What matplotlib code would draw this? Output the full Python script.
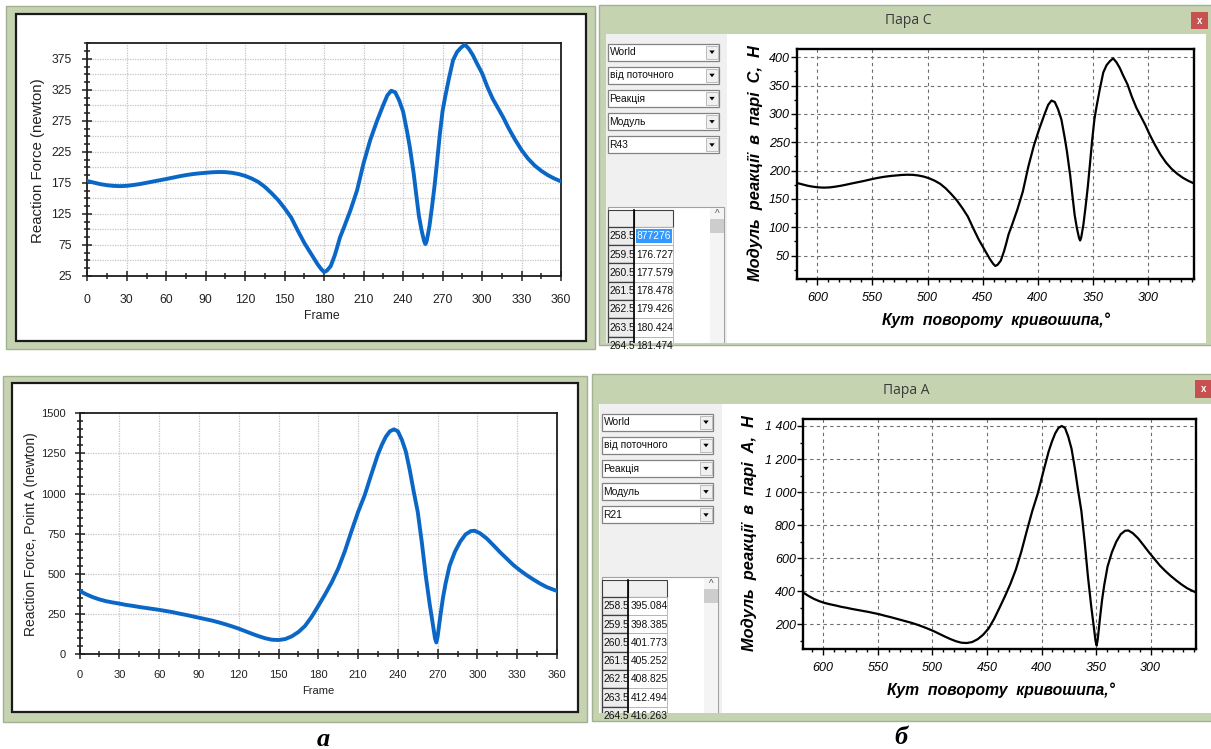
import numpy as np
from matplotlib import pyplot as plt
from matplotlib.patches import Rectangle, Polygon
from matplotlib.ticker import MultipleLocator

W, H = 1211, 749
plt.rcParams["font.family"] = ["Liberation Sans", "DejaVu Sans"]

# reaction force in pair C (R43) over one revolution
frames_c = [0, 5, 10, 15, 20, 25, 30, 35, 40, 45,
            50, 55, 60, 65, 70, 75, 80, 85, 90, 95,
            100, 105, 110, 115, 120, 125, 130, 135, 140, 145,
            150, 155, 160, 165, 170, 175, 178, 180, 182, 185,
            188, 190, 192, 195, 200, 205, 210, 215, 220, 225,
            228, 231, 234, 237, 240, 243, 245, 248, 250, 252,
            254, 256, 257, 258, 260, 262, 264, 266, 268, 270,
            272, 275, 278, 281, 284, 287, 290, 293, 296, 300,
            304, 308, 312, 316, 320, 325, 330, 335, 340, 345,
            350, 355, 360]
force_c = [178, 175.5, 173, 171.3, 170.2, 169.8, 170.3, 171.6, 173.2, 175.2,
           177.3, 179.3, 181.3, 183.5, 185.7, 187.6, 189.2, 190.4, 191.3, 192.2,
           192.6, 192.4, 191.3, 189.3, 186.3, 182, 176.5, 168.5, 158.5, 147.5,
           134, 119, 98, 78, 61, 44, 35.5, 31.5, 33.5, 41,
           58, 72, 87, 103, 131, 163, 207, 244, 274, 301,
           316, 323.5, 321, 308, 290, 258, 234, 191, 156, 122,
           99, 81, 76.5, 82, 105, 137, 172, 213, 255, 291,
           314, 345, 373, 386, 393, 398, 391, 381, 368, 352,
           330, 311, 296, 281, 264, 245, 228, 214, 203, 194.5,
           187.5, 182, 177.5]

# reaction force in pair A (R21)
frames_a = [0, 5, 10, 15, 20, 25, 30, 35, 40, 45,
            50, 55, 60, 65, 70, 75, 80, 85, 90, 95,
            100, 105, 110, 115, 120, 125, 130, 135, 140, 145,
            150, 155, 160, 165, 170, 175, 180, 185, 190, 195,
            200, 205, 210, 215, 220, 225, 228, 231, 234, 237,
            240, 243, 246, 249, 252, 255, 258, 261, 264, 266,
            268, 269, 270, 272, 274, 276, 279, 283, 287, 291,
            295, 298, 302, 307, 312, 317, 322, 327, 332, 337,
            342, 347, 352, 356, 360]
force_a = [393, 372, 354, 340, 329, 321, 314, 306, 300, 293,
           287, 281, 275, 268, 261, 252, 244, 235, 226, 217,
           208, 197, 185, 172, 158, 142, 126, 111, 98, 89,
           87, 93, 110, 137, 175, 232, 300, 370, 445, 532,
           640, 765, 885, 990, 1120, 1245, 1305, 1355, 1388, 1400,
           1388, 1335, 1262, 1145, 1010, 885, 700, 490, 310, 205,
           98, 72, 110, 235, 350, 440, 550, 637, 700, 745,
           766, 768, 752, 720, 678, 635, 595, 555, 522, 492,
           465, 440, 418, 405, 393]

angle_offset = 618.5  # crank angle = 618.5 - frame

frame_ticks = [0, 30, 60, 90, 120, 150, 180, 210, 240, 270, 300, 330, 360]
ticks_c = [25, 75, 125, 175, 225, 275, 325, 375]
ticks_a = [0, 250, 500, 750, 1000, 1250, 1500]
angle_ticks = [600, 550, 500, 450, 400, 350, 300]
ticks_c_right = [50, 100, 150, 200, 250, 300, 350, 400]
ticks_a_right = [200, 400, 600, 800, 1000, 1200, 1400]

combo_items = ["World", "від поточного", "Реакція", "Модуль"]
table_keys = ["258.5", "259.5", "260.5", "261.5", "262.5", "263.5", "264.5"]
table_c = ["877276", "176.727", "177.579", "178.478", "179.426", "180.424", "181.474"]
table_a = ["395.084", "398.385", "401.773", "405.252", "408.825", "412.494", "416.263"]

GREEN = "#c5d3b1"
EDGE = "#a3b193"

fig = plt.figure(figsize=(W / 100, H / 100), dpi=100)


def px_axes(x0, y0, x1, y1):
    return fig.add_axes([x0 / W, 1 - y1 / H, (x1 - x0) / W, (y1 - y0) / H])


def rect(ax, x0, y0, x1, y1, **kw):
    r = Rectangle((x0, y0), x1 - x0, y1 - y0, **kw)
    ax.add_patch(r)
    return r


bg = px_axes(0, 0, W, H)
bg.set_xlim(0, W)
bg.set_ylim(H, 0)
bg.axis("off")

# frames of the two left plots
rect(bg, 6, 6, 595, 349, fc=GREEN, ec=EDGE, lw=1)
rect(bg, 16, 13.5, 585.5, 340.5, fc="white", ec="#1a1a1a", lw=1.6)
rect(bg, 3, 376, 587, 722, fc=GREEN, ec=EDGE, lw=1)
rect(bg, 11.5, 383, 578, 712, fc="white", ec="#1a1a1a", lw=1.6)

# the two program windows on the right
windows = [(599, 5, 345, 34, 343.3, 907.8, 20.7, "Пара С", (1191, 11.7, 1208, 29.3)),
           (592, 374, 721, 404, 713.3, 906, 390, "Пара А", (1195, 380, 1213, 398))]
for x0, y0, y1, ctop, cbot, tx, ty, title, close in windows:
    rect(bg, x0, y0, W + 5, y1, fc=GREEN, ec=EDGE, lw=1)
    rect(bg, x0 + 7, ctop, W - 5 if y0 < 100 else W + 5, cbot, fc="white", ec="none")
    bg.text(tx, ty, title, fontsize=10, ha="center", va="center", color="#3a3a3a",
            family=["Open Sans", "DejaVu Sans"])
    rect(bg, close[0], close[1], close[2], close[3], fc="#c75050", ec="none")
    bg.text((close[0] + close[2]) / 2, (close[1] + close[3]) / 2, "x", fontsize=7,
            fontweight="bold", color="white", ha="center", va="center")

bg.text(323, 739, "a", fontsize=19, fontweight="bold", fontstyle="italic",
        family=["Liberation Serif", "DejaVu Serif"], ha="center", va="center")
bg.text(901, 737, "б", fontsize=19, fontweight="bold", fontstyle="italic",
        family=["Liberation Serif", "DejaVu Serif"], ha="center", va="center")


def side_panel(x0, y0, x1, y1, last_item, values):
    ax = px_axes(x0, y0, x1, y1)
    w, h = x1 - x0, y1 - y0
    ax.set_xlim(0, w)
    ax.set_ylim(h, 0)
    ax.axis("off")
    rect(ax, 0, 0, w, h, fc="#f0f0f0", ec="none")
    for i, item in enumerate(combo_items + [last_item]):
        top = 9.5 + i * 23.2
        rect(ax, 1.7, top, 113.3, top + 17, fc="white", ec="#828282", lw=0.9)
        rect(ax, 100, top + 2, 112, top + 15, fc="#f0f0f0", ec="#b4b4b4", lw=0.6)
        ax.add_patch(Polygon([[103.3, top + 7], [108.7, top + 7], [106, top + 10.5]],
                             closed=True, fc="black", ec="none"))
        ax.text(3.5, top + 8.8, item, fontsize=7.4, va="center", color="#111111")
    # table with scroll bar
    rect(ax, 1.7, 173, 118.3, h + 3, fc="white", ec="#a0a0a0", lw=0.8)
    rect(ax, 104, 173.5, 118, h + 3, fc="#f4f4f4", ec="none")
    ax.text(111, 180, "^", fontsize=7, ha="center", va="center", color="#555555")
    rect(ax, 104, 185, 118, 199, fc="#cdcdcd", ec="none")
    cols = [(1.7, 28.3), (28.3, 67.3)]
    for cx0, cx1 in cols:
        rect(ax, cx0, 176, cx1, 192.7, fc="#f0f0f0", ec="#404040", lw=0.8)
    for k, (key, val) in enumerate(zip(table_keys, values)):
        top = 192.7 + k * 18.3
        c1 = rect(ax, 1.7, top, 28.3, top + 18.3, fc="#ececec", ec="#404040", lw=0.9)
        t = ax.text(3, top + 9.5, key, fontsize=7.4, va="center", color="#111111")
        t.set_clip_path(c1)
        c2 = rect(ax, 28.3, top, 67.3, top + 18.3, fc="white", ec="#b0b0b0", lw=0.6)
        colour = "#111111"
        if k == 0 and values is table_c:
            rect(ax, 30, top + 2, 66, top + 16.5, fc="#3399ff", ec="none")
            colour = "white"
        t = ax.text(30.5, top + 9.5, val, fontsize=7.4, va="center", color=colour)
        t.set_clip_path(c2)
    ax.plot([28.3, 28.3], [176, h + 3], color="black", lw=1.2)


side_panel(606, 34, 727, 343.3, "R43", table_c)
side_panel(600, 404, 722, 713.3, "R21", table_a)


def frame_chart(box, frames, force, yticks, ylim, grid_vals, yminor, ylabel,
                size, lsize, xl_xy, yl_xy, xpad, ypad):
    ax = px_axes(*box)
    ax.plot(frames, force, color="#0b67c6", lw=2.8, solid_joinstyle="round", zorder=3)
    ax.set_xlim(0, 360)
    ax.set_ylim(*ylim)
    ax.set_xticks(frame_ticks)
    ax.xaxis.set_minor_locator(MultipleLocator(15))
    ax.set_yticks(yticks)
    ax.yaxis.set_minor_locator(MultipleLocator(yminor))
    ax.grid(axis="x", color="#c4c4c4", ls=(0, (1, 1)), lw=0.9)
    for v in grid_vals:
        ax.axhline(v, color="#c4c4c4", ls=(0, (1, 1)), lw=0.9, zorder=0.5)
    ax.tick_params(which="both", direction="inout", color="#202020", width=1.1,
                   labelcolor="#222222")
    ax.tick_params(which="major", length=6.5, labelsize=size)
    ax.tick_params(which="minor", length=4.5)
    ax.tick_params(axis="x", pad=xpad)
    ax.tick_params(axis="y", pad=ypad)
    for s in ax.spines.values():
        s.set_linewidth(1.3)
        s.set_color("#1e1e1e")
    ax.set_xlabel("Frame", fontsize=size, color="#222222")
    ax.set_ylabel(ylabel, fontsize=lsize, color="#222222")
    ax.xaxis.set_label_coords(*xl_xy)
    ax.yaxis.set_label_coords(*yl_xy)
    ax.xaxis.label.set_va("center")
    ax.yaxis.label.set_va("center")
    return ax


frame_chart((87.3, 43.3, 561, 276), frames_c, force_c, ticks_c, (25, 400),
            list(range(50, 400, 25)), 12.5, "Reaction Force (newton)",
            8.8, 10.8, (0.4955, -0.172), (-0.104, 0.494), 9.4, 8)
frame_chart((79.6, 413.3, 557, 654), frames_a, force_a, ticks_a, (0, 1500),
            [250, 500, 750, 1000, 1250], 50, "Reaction Force, Point A (newton)",
            8, 10, (0.4994, -0.1525), (-0.1026, 0.4985), 8.6, 6.7)


def space_thousands(v):
    return f"{v:,}".replace(",", " ")


def angle_chart(box, frames, force, yticks, ylim, ylabel, xl_xy, yl_xy):
    ax = px_axes(*box)
    angle = [angle_offset - f for f in frames]
    ax.plot(angle, force, color="black", lw=1.6, zorder=3)
    ax.set_xlim(angle_offset, angle_offset - 360)
    ax.set_ylim(*ylim)
    ax.set_xticks(angle_ticks, [str(t) for t in angle_ticks], fontstyle="italic")
    ax.set_yticks(yticks, [space_thousands(t) for t in yticks], fontstyle="italic")
    ax.xaxis.set_minor_locator(MultipleLocator(10))
    ax.yaxis.set_minor_locator(MultipleLocator((yticks[1] - yticks[0]) / 2))
    ax.grid(which="major", color="#6e6e6e", ls=(0, (3, 3)), lw=0.8)
    ax.tick_params(which="both", direction="out", color="black", width=1)
    ax.tick_params(which="major", length=4, labelsize=9)
    ax.tick_params(which="minor", length=2.5)
    ax.tick_params(axis="x", pad=5)
    ax.tick_params(axis="y", pad=1)
    for s in ax.spines.values():
        s.set_linewidth(1.7)
    ax.set_xlabel("Кут  повороту  кривошипа,°", fontsize=11.3, fontweight="bold",
                  fontstyle="italic")
    ax.set_ylabel(ylabel, fontsize=11.8, fontweight="bold", fontstyle="italic")
    ax.xaxis.set_label_coords(*xl_xy)
    ax.yaxis.set_label_coords(*yl_xy)
    ax.xaxis.label.set_va("center")
    ax.yaxis.label.set_va("center")
    return ax


angle_chart((797, 49.3, 1193.6, 279.3), frames_c, force_c, ticks_c_right, (8, 414),
            "Модуль  реакції  в  парі  С,  Н", (0.5018, -0.177), (-0.1064, 0.5057))
angle_chart((803, 418.7, 1196, 649.3), frames_a, force_a, ticks_a_right, (49, 1444),
            "Модуль  реакції  в  парі  А,  Н", (0.504, -0.1795), (-0.137, 0.504))

fig.savefig("out.png", dpi=100)
